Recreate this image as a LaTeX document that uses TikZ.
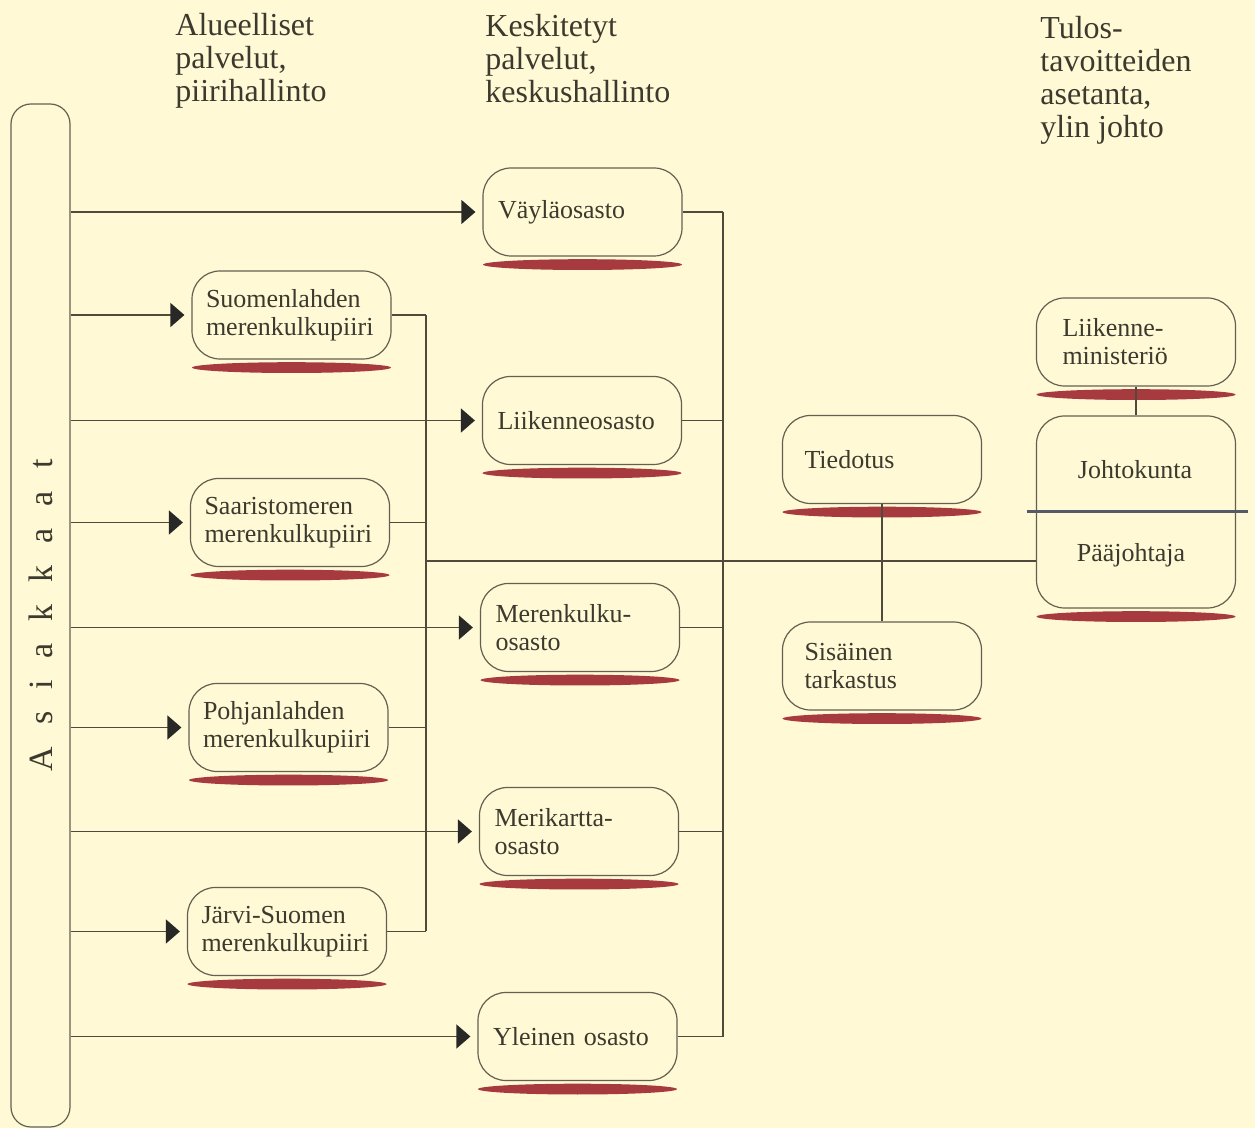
\documentclass[tikz,border=0pt]{standalone}
\usepackage{fontspec}
\setmainfont{Liberation Serif}
\usepackage{graphicx}
\usetikzlibrary{arrows.meta,calc}
\definecolor{bg}{RGB}{255,249,214}
\definecolor{ink}{RGB}{60,58,46}
\definecolor{ln}{RGB}{80,74,60}
\definecolor{boxln}{RGB}{100,96,80}
\definecolor{barcol}{RGB}{166,58,63}
\definecolor{divcol}{RGB}{85,90,104}
\definecolor{tipcol}{RGB}{40,40,38}
\newcommand{\redbar}[1]{\fill[barcol] ($(#1.south)+(0,8)$) ellipse (49.75pt and 2.7pt);}
\begin{document}
\begin{tikzpicture}[x=0.5pt,y=-0.5pt,
  orgbox/.style={draw=boxln, line width=0.6pt, rounded corners=14pt,
    minimum width=99.5pt, minimum height=44pt, inner ysep=0pt, align=left,
    font=\fontsize{13}{14}\selectfont, text=ink,
    execute at begin node={\hyphenpenalty=10000\exhyphenpenalty=10000}},
  cola/.style={orgbox, inner xsep=7pt, text width=85.5pt},
  colb/.style={orgbox, inner xsep=7.5pt, text width=84.5pt},
  colc/.style={orgbox, inner xsep=11pt, text width=77.5pt},
  cold/.style={orgbox, inner xsep=13pt, text width=73.5pt},
  hdr/.style={anchor=north west, inner sep=0pt, align=left, text=ink,
    font=\fontsize{16}{16.5}\selectfont},
  lbl/.style={inner sep=0pt, text=ink, font=\fontsize{13}{14}\selectfont},
  feed/.style={draw=ln, line width=0.7pt, -{Triangle[length=7pt,width=12pt,color=tipcol]}, shorten >=3.5pt},
  link/.style={draw=ln, line width=0.7pt}]
\fill[bg] (0,0) rectangle (1255,1128);
\useasboundingbox (0,0) rectangle (1255,1128);

% headers
\node[hdr] (h1) at (175,13) {Alueelliset\\palvelut,\\piirihallinto};
\node[hdr] (h2) at (485,14) {Keskitetyt\\palvelut,\\keskushallinto};
\node[hdr] (h3) at (1040,16) {Tulos-\\tavoitteiden\\asetanta,\\ylin johto};

% customers column
\node[draw=boxln, line width=0.6pt, rounded corners=10pt, minimum width=29.5pt,
  minimum height=511.5pt, inner sep=0pt, text=ink, font=\fontsize{17}{17}\selectfont]
  (cust) at (40.5,615.5)
  {\rotatebox{90}{A\hspace{11pt}s\hspace{11pt}i\hspace{11pt}a\hspace{11pt}k\hspace{11pt}k\hspace{11pt}a\hspace{11pt}a\hspace{11pt}t}};

% regional boxes
\node[cola] (suo) at (291.5,315) {Suomenlahden\\merenkulkupiiri};
\node[cola] (saa) at (290,522.5) {Saaristomeren\\merenkulkupiiri};
\node[cola] (poh) at (288.5,727.5) {Pohjanlahden\\merenkulkupiiri};
\node[cola] (jar) at (287,931.5) {Järvi-Suomen\\merenkulkupiiri};

% central boxes
\node[colb] (vay) at (582.5,212) {Väyläosasto};
\node[colb] (lii) at (582,420.5) {Liikenneosasto};
\node[colb] (mer) at (580,627.5) {Merenkulku-\\osasto};
\node[colb] (mka) at (579,831.5) {Merikartta-\\osasto};
\node[colb] (yle) at (577.5,1036.5) {Yleinen osasto};

% staff boxes
\node[colc] (tied) at (882,459.5) {Tiedotus};
\node[colc] (sis) at (882,666) {Sisäinen\\tarkastus};

% top management
\node[cold] (min) at (1136,342) {Liikenne-\\ministeriö};
\node[orgbox, minimum height=96pt] (jb) at (1136,512) {};
\node[lbl] (johto) at (1135,470) {Johtokunta};
\node[lbl] (paa) at (1131,555) {Pääjohtaja};

% red bars
\foreach \b in {suo,saa,poh,jar,vay,lii,mer,mka,yle,tied,sis,min,jb} {\redbar{\b}}

% divider
\draw[divcol, line width=1.5pt] ($(jb.west)+(-9,0)$) -- ($(jb.east)+(12,0)$);

% customer feeds
\foreach \b in {vay,suo,lii,saa,mer,poh,mka,jar,yle}
  {\draw[feed] (cust.east |- \b.west) -- (\b.west);}

% buses
\coordinate (b1) at (426,0);
\coordinate (b2) at (723,0);
\coordinate (m) at (0,561);
\foreach \b in {suo,saa,poh,jar} {\draw[link] (\b.east) -- (\b.east -| b1);}
\draw[link] (b1 |- suo.east) -- (b1 |- jar.east);
\foreach \b in {vay,lii,mer,mka,yle} {\draw[link] (\b.east) -- (\b.east -| b2);}
\draw[link] (b2 |- vay.east) -- (b2 |- yle.east);
\draw[link] (b1 |- m) -- (jb.west |- m);
\draw[link] (tied.south) -- (sis.north);
\draw[link] (min.south) -- (jb.north);
\end{tikzpicture}
\end{document}
